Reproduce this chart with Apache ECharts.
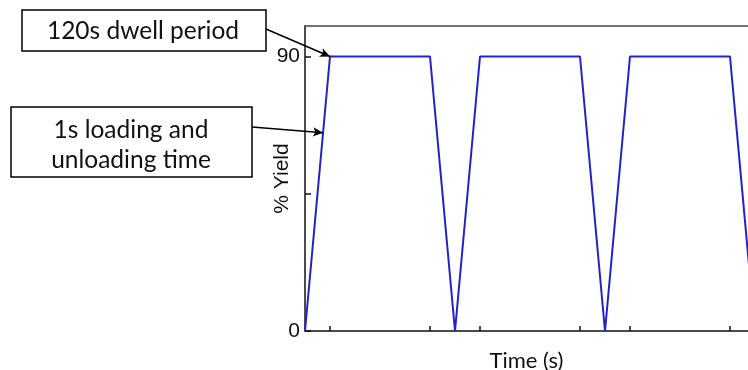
<!DOCTYPE html>
<html>
<head>
<meta charset="utf-8">
<script src="https://cdn.jsdelivr.net/npm/echarts@6/dist/echarts.min.js"></script>
<style>html,body{margin:0;padding:0;background:#fff;}#c{width:748px;height:370px;}</style>
</head>
<body>
<div id="c"></div>
<script>
// Schematic time units (one unit = loading/unloading ramp)
const time = [0, 1, 5, 6, 7, 11, 12, 13, 17, 18];
const yieldPct = [0, 90, 90, 0, 90, 90, 0, 90, 90, 0];
const xTicks = [1, 5, 7, 11, 13, 17];
const yTicks = [0, 45, 90];
const yLabels = [0, 90];
const note1 = '120s dwell period';
const note2 = '1s loading and\nunloading time';
const note1Target = [1, 90];
const note2Target = [0.72, 65];

const chart = echarts.init(document.getElementById('c'));
chart.setOption({
  animation: false,
  grid: { left: 305, top: 26, right: 0, bottom: 39, outerBoundsMode: 'none', containLabel: false },
  xAxis: [{
    type: 'value', min: 0, max: 17.72,
    name: 'Time (s)', nameLocation: 'middle', nameGap: 19, nameMoveOverlap: false,
    nameTextStyle: { fontFamily: 'Lato', fontSize: 22, color: '#111' },
    axisLine: { show: true, onZero: false, lineStyle: { color: '#111', width: 1.5 } },
    axisTick: { show: true, inside: true, length: 5, customValues: xTicks, lineStyle: { color: '#111', width: 1.5 } },
    axisLabel: { show: false },
    splitLine: { show: false }
  }, {
    type: 'value', min: 0, max: 17.72, position: 'top',
    axisLine: { show: true, onZero: false, lineStyle: { color: '#444', width: 1.5 } },
    axisTick: { show: false }, axisLabel: { show: false }, splitLine: { show: false }
  }],
  yAxis: {
    type: 'value', min: 0, max: 100,
    name: '% Yield', nameLocation: 'middle', nameGap: 12, nameMoveOverlap: false,
    nameTextStyle: { fontFamily: 'Liberation Sans', fontSize: 21, color: '#111' },
    axisLine: { show: true, onZero: false, lineStyle: { color: '#111', width: 1.5 } },
    axisTick: { show: true, inside: true, length: 6, customValues: yTicks, lineStyle: { color: '#111', width: 1.5 } },
    axisLabel: { show: true, customValues: yLabels, margin: 5, fontFamily: 'Liberation Sans', fontSize: 21, color: '#111', padding: [12, 0, 0, 0] },
    splitLine: { show: false }
  },
  series: [{
    type: 'line',
    data: time.map((t, i) => [t, yieldPct[i]]),
    showSymbol: false, symbol: 'none',
    lineStyle: { color: '#2323c4', width: 2 },
    clip: true,
    markLine: {
      silent: true, symbol: ['none', 'arrow'], symbolSize: [7, 10],
      label: { show: false },
      lineStyle: { color: '#000', width: 1.5, type: 'solid' },
      data: [
        [{ x: 266, y: 29 }, { coord: note1Target }],
        [{ x: 252, y: 127 }, { coord: note2Target }]
      ]
    }
  }],
  graphic: [
    { type: 'rect', shape: { x: 22, y: 10, width: 244, height: 41 }, style: { fill: '#fff', stroke: '#000', lineWidth: 1.5 } },
    { type: 'text', x: 143, y: 31, style: { text: note1, fontFamily: 'Lato', fontSize: 24.5, fill: '#111', align: 'center', verticalAlign: 'middle' } },
    { type: 'rect', shape: { x: 11, y: 107, width: 241, height: 70 }, style: { fill: '#fff', stroke: '#000', lineWidth: 1.5 } },
    { type: 'text', x: 131, y: 145, style: { text: note2, fontFamily: 'Lato', fontSize: 24.5, lineHeight: 30, fill: '#111', align: 'center', verticalAlign: 'middle' } }
  ]
});
</script>
</body>
</html>
